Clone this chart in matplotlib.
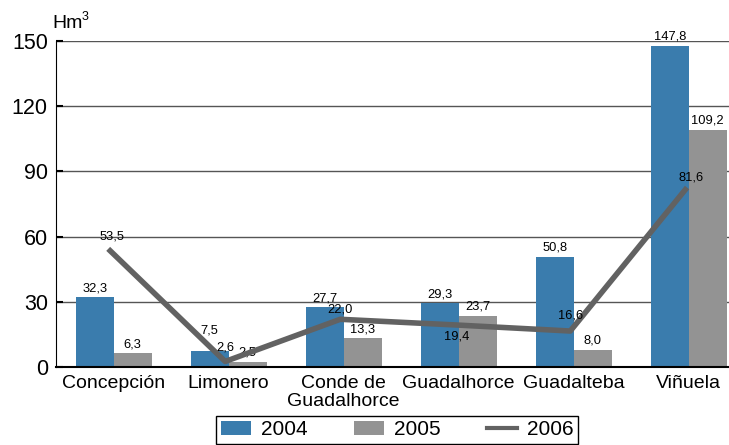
import numpy as np
import matplotlib
matplotlib.use('Agg')
from matplotlib import pyplot as plt
from matplotlib.lines import Line2D

plt.rcParams['font.family'] = ['Liberation Sans', 'DejaVu Sans']

# embalses y volumenes (Hm3)
categories = ['Concepción', 'Limonero', 'Conde de\nGuadalhorce', 'Guadalhorce', 'Guadalteba', 'Viñuela']
v2004 = [32.3, 7.5, 27.7, 29.3, 50.8, 147.8]
v2005 = [6.3, 2.5, 13.3, 23.7, 8.0, 109.2]
v2006 = [53.5, 2.6, 22.0, 19.4, 16.6, 81.6]
# label offsets (points)
bar04_dy = [2, 10, 2, 2, 2, 2]
line_dy = [10, 10, 7, -8, 11, 9]
line_dx = [1, 0, 0, 1, 0, 4]

def fmt(v):
    return ('%.1f' % v).replace('.', ',')

c_blue = '#3a7cad'
c_gray = '#939393'
c_line = '#626262'

fig = plt.figure(figsize=(7.29, 4.45), dpi=100)
ax = fig.add_axes([0.077, 0.175, 0.923, 0.733])

x = np.arange(len(categories))
w = 0.33
b1 = ax.bar(x - w / 2, v2004, w, color=c_blue, label='2004', zorder=2)
b2 = ax.bar(x + w / 2, v2005, w, color=c_gray, label='2005', zorder=2)
ax.plot(x - 0.03, v2006, color=c_line, lw=4, label='2006', zorder=3)

for b, v, dy in zip(b1, v2004, bar04_dy):
    ax.annotate(fmt(v), (b.get_x() + b.get_width() / 2, v), xytext=(0, dy),
                textcoords='offset points', ha='center', va='bottom', fontsize=9.3, zorder=4)
for b, v in zip(b2, v2005):
    ax.annotate(fmt(v), (b.get_x() + b.get_width() / 2, v), xytext=(0, 2),
                textcoords='offset points', ha='center', va='bottom', fontsize=9.3, zorder=2.5)
for i, v in enumerate(v2006):
    ax.annotate(fmt(v), (x[i] - 0.03, v), xytext=(line_dx[i], line_dy[i]),
                textcoords='offset points', ha='center', va='center', fontsize=9.3, zorder=4)

ax.set_xlim(-0.5, 5.35)
ax.set_ylim(0, 150)
ax.set_yticks([0, 30, 60, 90, 120, 150])
ax.set_xticks(x)
ax.set_xticklabels(categories, fontsize=14, linespacing=1.05)
ax.tick_params(axis='y', labelsize=15.5, direction='in', length=5, width=1.5, pad=6)
ax.tick_params(axis='x', length=0, pad=6)
ax.yaxis.grid(True, color='#555555', lw=1, zorder=0)
ax.set_axisbelow(True)
for s in ['top', 'right']:
    ax.spines[s].set_visible(False)
ax.spines['left'].set_color('black')
ax.spines['bottom'].set_color('black')
ax.spines['bottom'].set_linewidth(1.5)

fig.text(0.072, 0.927, 'Hm', fontsize=14, ha='left', va='bottom')
fig.text(0.112, 0.949, '3', fontsize=9, ha='left', va='bottom')

ln_handle = Line2D([], [], color=c_line, lw=3)
leg = fig.legend([b1, b2, ln_handle], ['2004', '2005', '2006'], loc='lower center',
                 bbox_to_anchor=(0.545, -0.006), ncol=3, fontsize=15,
                 frameon=True, fancybox=False, edgecolor='black', framealpha=1,
                 handlelength=1.45, handleheight=0.65, handletextpad=0.5,
                 columnspacing=2.2, borderpad=0.2, borderaxespad=0.2)
leg.get_frame().set_linewidth(1)

fig.savefig('out.png', dpi=100)
